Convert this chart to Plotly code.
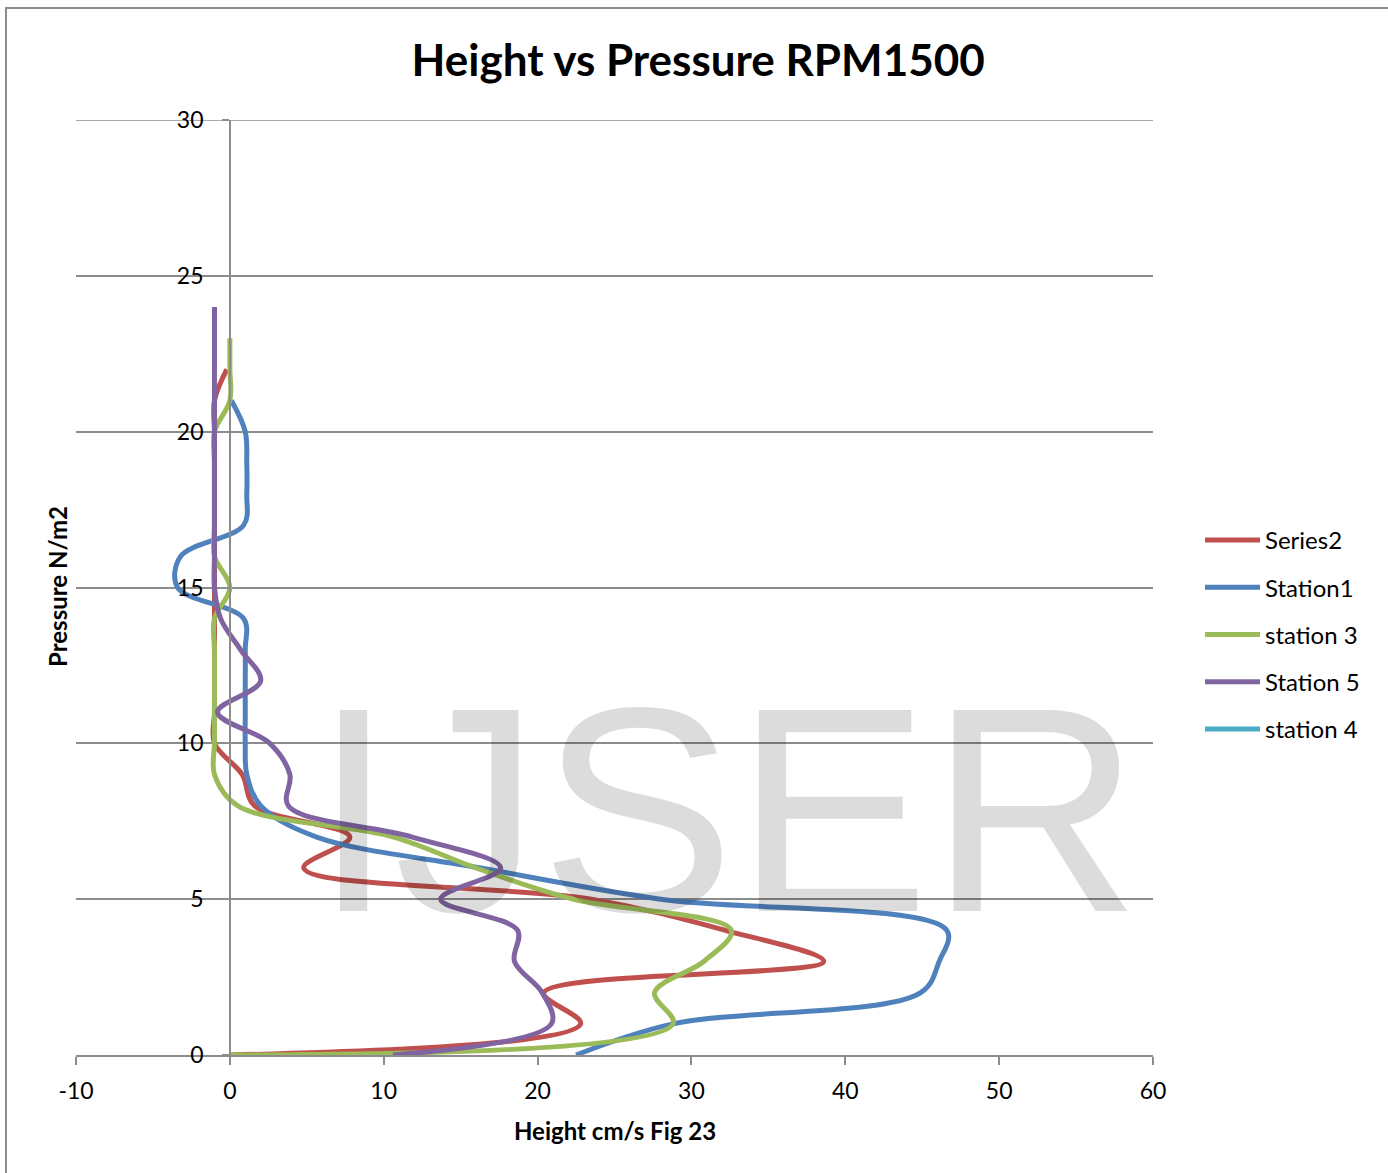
import plotly.graph_objects as go

# Pressure levels (N/m2) and measured heights (cm/s) per station
pressure_series2 = list(range(0, 23))
height_series2 = [0, 22.8, 20.4, 38.6, 32.2, 23.5, 4.8, 7.8, 1.6, 0.8,
                  -1, -1, -1, -1, -1, -1, -1, -1, -1, -1, -1, -1, -0.2]

pressure_station1 = list(range(0, 22))
height_station1 = [22.5, 28.8, 44.9, 46.1, 46.6, 28.0, 16.3, 5.6, 2.0, 1.1,
                   1.0, 1.0, 1.0, 1.0, 0.9, -3.4, -3.2, 0.9, 1.1, 1.1, 1.0, 0.1]

pressure_station3 = list(range(0, 24))
height_station3 = [0, 28.8, 27.6, 30.8, 32.6, 22.3, 16.0, 10.6, 0.5, -1,
                   -1, -1, -1, -1, -1, 0, -1, -1, -1, -1, -1, 0, 0, 0]

pressure_station5 = list(range(0, 25))
height_station5 = [10.6, 20.9, 20.3, 18.5, 18.7, 13.7, 17.6, 11.8, 3.8, 3.9,
                   2.6, -0.8, 2.0, 0.7, -0.6, -1, -1, -1, -1, -1, -1, -1, -1, -1, -1]

pressure_station4 = []
height_station4 = []

series = [
    ("Series2", height_series2, pressure_series2, "#C0504D"),
    ("Station1", height_station1, pressure_station1, "#4F81BD"),
    ("station 3", height_station3, pressure_station3, "#9BBB59"),
    ("Station 5", height_station5, pressure_station5, "#8064A2"),
    ("station 4", height_station4, pressure_station4, "#4BACC6"),
]

x_ticks = [-10, 0, 10, 20, 30, 40, 50, 60]
y_ticks = [0, 5, 10, 15, 20, 25, 30]

FONT = "Lato, 'Open Sans', sans-serif"
GRID = "#8c8c8c"

fig = go.Figure()
for i, (name, xs, ys, color) in enumerate(series):
    fig.add_trace(go.Scatter(
        x=xs if xs else [None], y=ys if ys else [None],
        mode="lines", name=name, legendgroup=f"g{i}",
        line=dict(color=color, width=5, shape="spline", smoothing=1),
    ))

L, R, T, B = 76, 235, 120, 118
W, H = 1388, 1173
pw, ph = W - L - R, H - T - B

def px_x(p):
    return (p - L) / pw

def px_y(p):
    return (H - B - p) / ph

fig.update_layout(
    width=W, height=H, autosize=False,
    margin=dict(l=L, r=R, t=T, b=B, pad=0),
    paper_bgcolor="white", plot_bgcolor="white",
    font=dict(family=FONT, color="black"),
    title=dict(text="<b>Height vs Pressure RPM1500</b>",
               font=dict(family=FONT, size=44, color="black"),
               x=0.503, xref="container", xanchor="center",
               y=1 - 61 / H, yref="container", yanchor="middle"),
    xaxis=dict(range=[-10, 60], tickvals=x_ticks,
               ticktext=[str(v) for v in x_ticks], showgrid=False,
               zeroline=False, showline=True, linecolor=GRID, linewidth=1.5,
               ticks="outside", ticklen=8, tickcolor=GRID, tickwidth=1.5,
               tickfont=dict(size=23, family=FONT), ticklabelstandoff=7),
    yaxis=dict(range=[0, 30], tickvals=y_ticks, showgrid=True,
               gridcolor=GRID, gridwidth=1.5, zeroline=False,
               showline=True, linecolor=GRID, linewidth=1.5,
               anchor="free", position=px_x(229.9),
               ticks="outside", ticklen=7, tickcolor=GRID, tickwidth=1.5,
               tickfont=dict(size=23, family=FONT), ticklabelstandoff=14),
    legend=dict(x=px_x(1200), y=px_y(518), xanchor="left", yanchor="top",
                font=dict(size=24, family=FONT), itemwidth=55,
                tracegroupgap=13, bgcolor="rgba(0,0,0,0)"),
    showlegend=True,
)

# Top gridline at the upper end of the pressure range
fig.add_shape(type="line", xref="paper", yref="y", x0=0, x1=1, y0=30, y1=30,
              line=dict(color=GRID, width=1.5), layer="below")

fig.add_annotation(text="<b>Height cm/s Fig 23</b>", xref="paper", yref="paper",
                   x=px_x(614.5), y=px_y(1130), xanchor="center", yanchor="middle",
                   showarrow=False, font=dict(size=24, family=FONT))
fig.add_annotation(text="<b>Pressure N/m2</b>", xref="paper", yref="paper",
                   x=px_x(57), y=px_y(587), xanchor="center", yanchor="middle",
                   textangle=-90, showarrow=False, font=dict(size=24, family=FONT))
# Watermark
fig.add_annotation(text="IJSER", xref="paper", yref="paper",
                   x=px_x(727), y=px_y(810), xanchor="center", yanchor="middle",
                   showarrow=False,
                   font=dict(size=292, family="'Liberation Sans', Arial, sans-serif",
                             color="rgba(0,0,0,0.137)"))
# Chart-area border
fig.add_shape(type="rect", xref="paper", yref="paper",
              x0=px_x(6), x1=px_x(1420), y0=px_y(1200), y1=px_y(8),
              line=dict(color="#8c8c8c", width=2), layer="below")

fig.write_html("out.html")
